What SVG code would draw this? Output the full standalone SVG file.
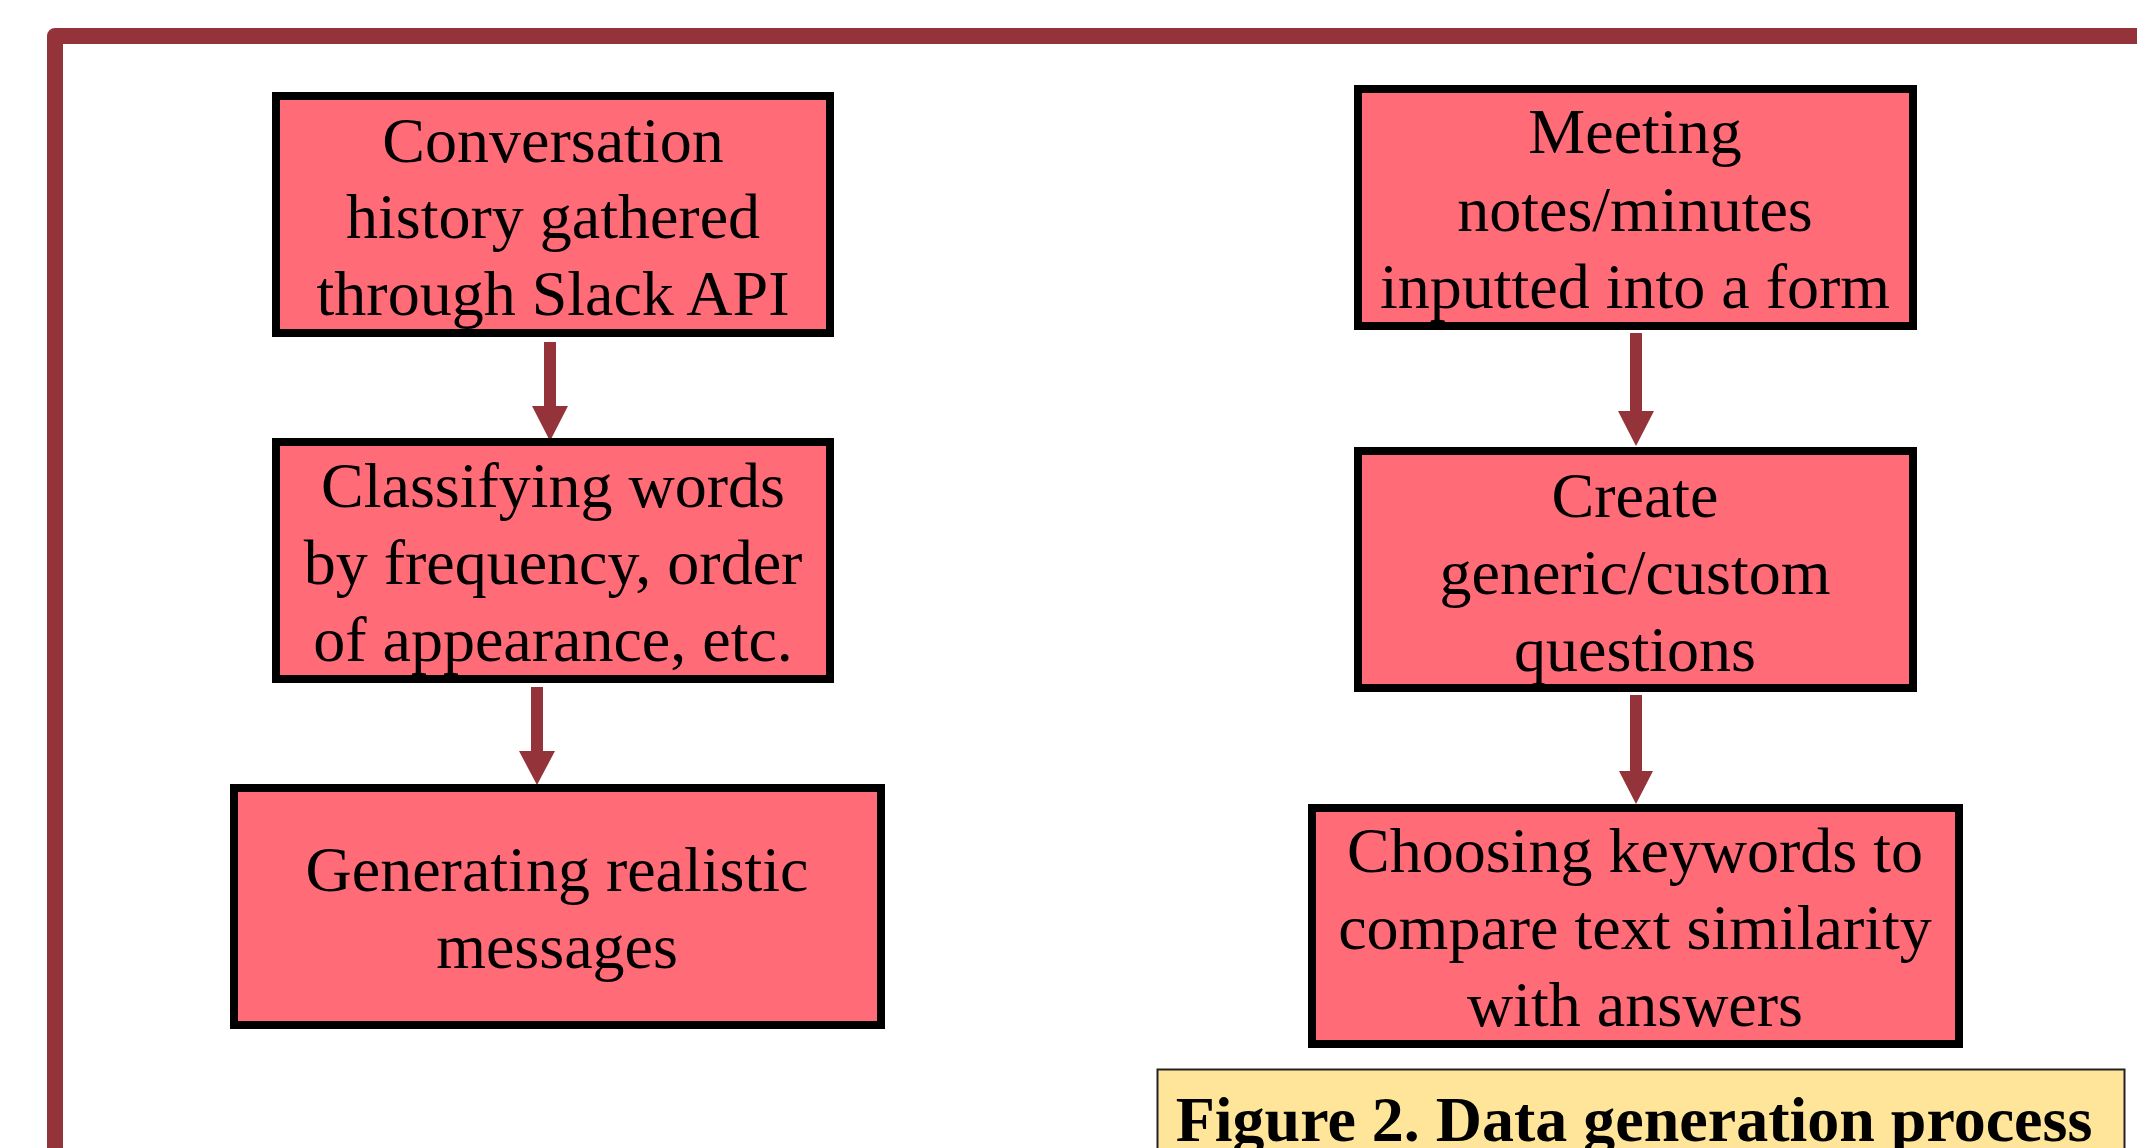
<svg xmlns="http://www.w3.org/2000/svg" width="2137" height="1148" viewBox="0 0 2137 1148">
<style>
.box{fill:#FF6B76;stroke:#000;stroke-width:8}
.t{font-family:"Liberation Serif","Times New Roman",serif;font-size:64px;fill:#000;text-anchor:middle}
.cap{font-family:"Liberation Serif","Times New Roman",serif;font-size:64px;font-weight:bold;fill:#000;text-anchor:middle}
.arr{fill:#943339}
</style>
<rect width="2137" height="1148" fill="#fff"/>
<path d="M55,1160 V36 H2150" fill="none" stroke="#943339" stroke-width="16" stroke-linejoin="round"/>
<g id="connectors">
<path class="arr" d="M544,342 H556 V406 H568 L550,441 L532,406 H544 Z"/>
<path class="arr" d="M531,687 H543 V751 H555 L537,785 L519,751 H531 Z"/>
<path class="arr" d="M1630,333 H1642 V411 H1654 L1636,446 L1618,411 H1630 Z"/>
<path class="arr" d="M1630,695 H1642 V771 H1653 L1636,804 L1619,771 H1630 Z"/>
</g>
<g id="node-conversation">
<rect class="box" x="276" y="96" width="554" height="237"/>
<text class="t" x="553" y="162">Conversation</text>
<text class="t" x="553" y="238">history gathered</text>
<text class="t" x="553" y="315">through Slack API</text>
</g>
<g id="node-classifying">
<rect class="box" x="276" y="442" width="554" height="237"/>
<text class="t" x="553" y="507">Classifying words</text>
<text class="t" x="553" y="584">by frequency, order</text>
<text class="t" x="553" y="661">of appearance, etc.</text>
</g>
<g id="node-generating">
<rect class="box" x="234" y="788" width="647" height="237"/>
<text class="t" x="557" y="891">Generating realistic</text>
<text class="t" x="557" y="968">messages</text>
</g>
<g id="node-meeting">
<rect class="box" x="1358" y="89" width="555" height="237"/>
<text class="t" x="1635" y="153">Meeting</text>
<text class="t" x="1635" y="231">notes/minutes</text>
<text class="t" x="1635" y="308">inputted into a form</text>
</g>
<g id="node-create">
<rect class="box" x="1358" y="451" width="555" height="237"/>
<text class="t" x="1635" y="517">Create</text>
<text class="t" x="1635" y="594">generic/custom</text>
<text class="t" x="1635" y="671">questions</text>
</g>
<g id="node-choosing">
<rect class="box" x="1312" y="808" width="647" height="236"/>
<text class="t" x="1635" y="872">Choosing keywords to</text>
<text class="t" x="1635" y="949">compare text similarity</text>
<text class="t" x="1635" y="1026">with answers</text>
</g>
<g id="caption">
<rect x="1157.5" y="1069.5" width="967" height="100" fill="#FFE599" stroke="#222" stroke-width="2"/>
<text class="cap" x="1634" y="1141">Figure 2. Data generation process</text>
</g>
</svg>
